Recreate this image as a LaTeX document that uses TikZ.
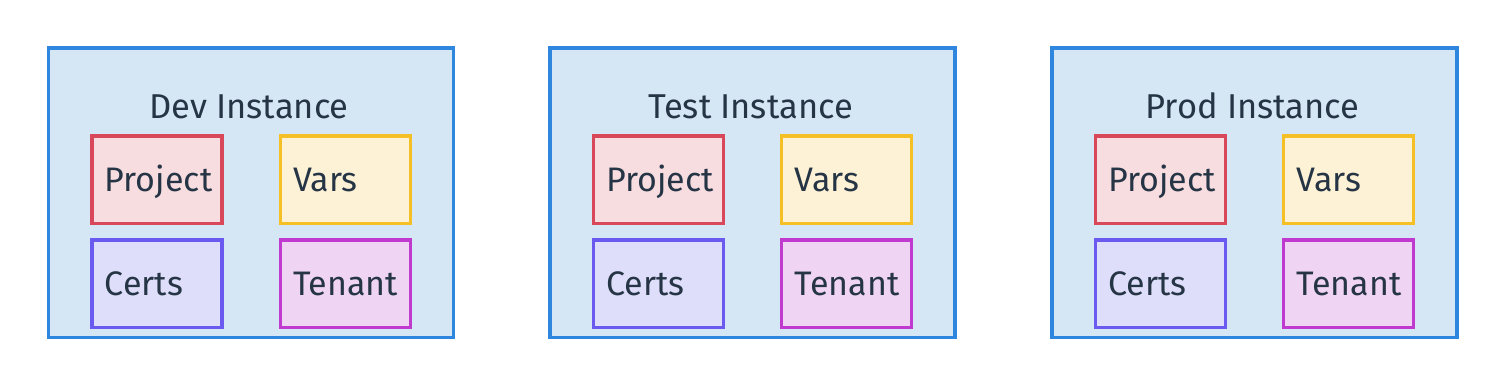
\documentclass[tikz,border=0pt]{standalone}
\usepackage{fontspec}
\setmainfont{Fira Sans}
\usetikzlibrary{positioning}
\definecolor{inkc}{HTML}{263545}
\definecolor{instline}{HTML}{2E86DE}
\definecolor{instfill}{HTML}{D5E6F5}
\tikzstyle{instbox}=[rectangle,draw=instline,fill=instfill,line width=3.4pt,outer sep=0pt,minimum width=405pt,minimum height=289.5pt]
\tikzstyle{instlabel}=[anchor=base,text=inkc,font=\fontsize{34.5}{40}\selectfont]
\tikzstyle{item}=[rectangle,line width=3.4pt,outer sep=0pt,minimum width=130pt,minimum height=87.5pt,text width=104pt,align=left,text height=24pt,text depth=0pt,text=inkc,font=\fontsize{34}{40}\selectfont]
\tikzstyle{projbox}=[item,draw={rgb,255:red,217;green,71;blue,90},fill={rgb,255:red,247;green,220;blue,224}]
\tikzstyle{varsbox}=[item,draw={rgb,255:red,245;green,192;blue,37},fill={rgb,255:red,253;green,242;blue,214}]
\tikzstyle{certbox}=[item,draw={rgb,255:red,106;green,90;blue,240},fill={rgb,255:red,222;green,222;blue,250}]
\tikzstyle{tenbox}=[item,draw={rgb,255:red,192;green,58;blue,208},fill={rgb,255:red,240;green,212;blue,243}]

\begin{document}
\begin{tikzpicture}[x=1pt,y=1pt]
\useasboundingbox (0,0) rectangle (1506,386);
% dev
\node[instbox] (dev) at (251,193.25) {};
\node[instlabel] (devT) at (249,267.7) {Dev Instance};
\node[projbox] (devP) at (156.8,206.3) {Project};
\node[varsbox, right=58.4pt of devP] (devV) {Vars};
\node[certbox, below=16.6pt of devP] (devC) {Certs};
\node[tenbox, right=58.4pt of devC] (devN) {Tenant};
% test
\node[instbox] (tst) at (752.5,193.25) {};
\node[instlabel] (tstT) at (750.5,267.7) {Test Instance};
\node[projbox] (tstP) at (658.3,206.3) {Project};
\node[varsbox, right=58.4pt of tstP] (tstV) {Vars};
\node[certbox, below=16.6pt of tstP] (tstC) {Certs};
\node[tenbox, right=58.4pt of tstC] (tstN) {Tenant};
% prod
\node[instbox] (prd) at (1254.5,193.25) {};
\node[instlabel] (prdT) at (1252.5,267.7) {Prod Instance};
\node[projbox] (prdP) at (1160.3,206.3) {Project};
\node[varsbox, right=58.4pt of prdP] (prdV) {Vars};
\node[certbox, below=16.6pt of prdP] (prdC) {Certs};
\node[tenbox, right=58.4pt of prdC] (prdN) {Tenant};
\end{tikzpicture}
\end{document}
